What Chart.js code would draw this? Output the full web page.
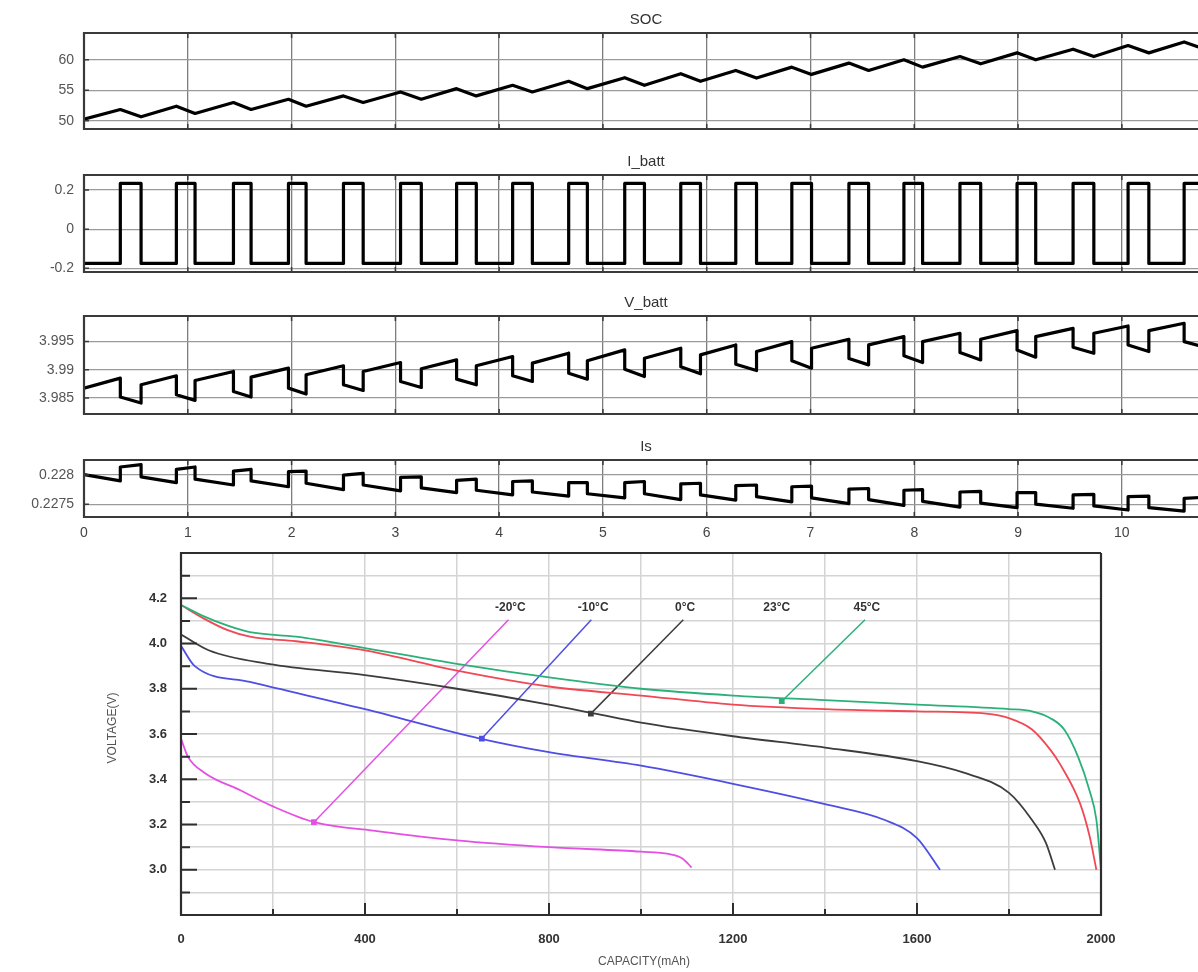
<!DOCTYPE html>
<html>
<head>
<meta charset="utf-8">
<script src="https://cdn.jsdelivr.net/npm/chart.js@4.4.1/dist/chart.umd.min.js"></script>
<style>
  html, body { margin: 0; padding: 0; background: #fff; overflow: hidden; }
  body { width: 1198px; height: 972px; position: relative; }
  canvas { position: absolute; left: 0; }
</style>
</head>
<body>
<canvas id="socChart"></canvas>
<canvas id="ibattChart"></canvas>
<canvas id="vbattChart"></canvas>
<canvas id="isChart"></canvas>
<canvas id="capChart"></canvas>
<script>
// ---- pulse test: edge times (s) ----
const pulseOn  = [0.35, 0.89, 1.44, 1.97, 2.50, 3.05, 3.59, 4.13, 4.67, 5.21, 5.75, 6.28, 6.82, 7.37, 7.90, 8.44, 8.99, 9.53, 10.06, 10.60];
const pulseOff = [0.55, 1.07, 1.61, 2.14, 2.69, 3.25, 3.78, 4.32, 4.85, 5.40, 5.94, 6.48, 7.01, 7.56, 8.08, 8.64, 9.17, 9.73, 10.26, 10.80];
const tEnd = 10.83;
const timeTicks = [0, 1, 2, 3, 4, 5, 6, 7, 8, 9, 10];

// SOC (%)
const socStart = 50.27;
const socPeak   = [51.85, 52.39, 52.99, 53.53, 54.08, 54.73, 55.27, 55.82, 56.47, 57.07, 57.72, 58.26, 58.80, 59.46, 60.00, 60.54, 61.14, 61.74, 62.34, 62.93];
const socTrough = [50.65, 51.20, 51.85, 52.39, 52.99, 53.53, 54.08, 54.73, 55.27, 55.82, 56.47, 57.01, 57.61, 58.26, 58.80, 59.35, 60.00, 60.54, 61.14, 61.74];
const socEnd = 61.8;
const socTicks = [50, 55, 60];

// battery current (A)
const iHigh = 0.234;
const iLow = -0.175;
const ibattTicks = [-0.2, 0, 0.2];

// battery voltage (V)
const vStart = 3.98676;
const vBeforeDrop = [3.98853, 3.98894, 3.98971, 3.99030, 3.99071, 3.99129, 3.99176, 3.99235, 3.99294, 3.99353, 3.99382, 3.99441, 3.99500, 3.99541, 3.99588, 3.99647, 3.99694, 3.99735, 3.99776, 3.99824];
const vAfterDrop  = [3.98518, 3.98559, 3.98618, 3.98676, 3.98735, 3.98794, 3.98835, 3.98894, 3.98941, 3.99010, 3.99055, 3.99100, 3.99160, 3.99200, 3.99250, 3.99305, 3.99350, 3.99400, 3.99440, 3.99500];
const vPulseEnd   = [3.98412, 3.98459, 3.98518, 3.98571, 3.98635, 3.98688, 3.98735, 3.98794, 3.98835, 3.98882, 3.98929, 3.98988, 3.99029, 3.99088, 3.99129, 3.99176, 3.99224, 3.99294, 3.99324, 3.99400];
const vRecover    = [3.98735, 3.98812, 3.98871, 3.98912, 3.98971, 3.99018, 3.99071, 3.99118, 3.99160, 3.99206, 3.99265, 3.99324, 3.99382, 3.99441, 3.99500, 3.99541, 3.99588, 3.99647, 3.99694, 3.99740];
const vEnd = 3.9975;
const vbattTicks = [3.985, 3.99, 3.995];

// Is
const isStart = 0.22801;
const isBeforeRise = [0.22790, 0.22787, 0.22783, 0.22780, 0.22775, 0.22773, 0.22770, 0.22766, 0.22764, 0.22761, 0.22758, 0.22757, 0.22754, 0.22751, 0.22748, 0.22745, 0.22744, 0.22743, 0.22740, 0.22738];
const isAfterRise  = [0.22814, 0.22810, 0.22807, 0.22806, 0.22800, 0.22796, 0.22791, 0.22789, 0.22787, 0.22787, 0.22785, 0.22782, 0.22780, 0.22776, 0.22774, 0.22771, 0.22770, 0.22766, 0.22763, 0.22760];
const isBeforeFall = [0.22818, 0.22814, 0.22810, 0.22807, 0.22803, 0.22797, 0.22793, 0.22790, 0.22787, 0.22789, 0.22786, 0.22783, 0.22781, 0.22777, 0.22775, 0.22772, 0.22770, 0.22767, 0.22764, 0.22762];
const isAfterFall  = [0.22797, 0.22793, 0.22790, 0.22786, 0.22783, 0.22778, 0.22774, 0.22771, 0.22768, 0.22768, 0.22766, 0.22763, 0.22761, 0.22758, 0.22755, 0.22752, 0.22750, 0.22747, 0.22744, 0.22741];
const isEnd = 0.22740;
const isTicks = [0.2275, 0.228];

// ---- discharge curves: capacity (mAh) vs voltage (V) ----
const capTicks = [0, 400, 800, 1200, 1600, 2000];
const voltTicks = [3.0, 3.2, 3.4, 3.6, 3.8, 4.0, 4.2];
const temps = ['-20°C', '-10°C', '0°C', '23°C', '45°C'];

const capM20  = [0, 15, 50, 130, 200, 290, 430, 600, 800, 1000, 1060, 1090, 1110];
const voltM20 = [3.58, 3.50, 3.43, 3.35, 3.28, 3.21, 3.17, 3.13, 3.10, 3.08, 3.07, 3.05, 3.01];
const capM10  = [0, 30, 150, 400, 650, 800, 1000, 1200, 1400, 1530, 1600, 1650];
const voltM10 = [3.99, 3.90, 3.83, 3.71, 3.58, 3.52, 3.46, 3.38, 3.29, 3.22, 3.14, 3.00];
const cap0    = [0, 60, 190, 400, 600, 800, 900, 1000, 1200, 1400, 1600, 1700, 1800, 1850, 1880, 1900];
const volt0   = [4.04, 3.97, 3.91, 3.86, 3.80, 3.73, 3.69, 3.65, 3.59, 3.54, 3.48, 3.43, 3.34, 3.22, 3.12, 3.00];
const cap23   = [0, 50, 100, 150, 250, 400, 600, 800, 1000, 1200, 1400, 1600, 1750, 1800, 1850, 1890, 1910, 1955, 1975, 1990];
const volt23  = [4.17, 4.11, 4.06, 4.03, 4.01, 3.97, 3.88, 3.81, 3.77, 3.73, 3.71, 3.70, 3.69, 3.67, 3.62, 3.53, 3.47, 3.29, 3.15, 3.00];
const cap45   = [0, 50, 100, 150, 250, 400, 600, 800, 1000, 1200, 1400, 1600, 1800, 1850, 1890, 1920, 1950, 1975, 1990, 2000];
const volt45  = [4.17, 4.12, 4.08, 4.05, 4.03, 3.98, 3.91, 3.85, 3.80, 3.77, 3.75, 3.73, 3.71, 3.70, 3.67, 3.62, 3.50, 3.35, 3.22, 3.00];

// callouts: label capacity, and the point on the curve it marks (null = no leader)
const labelCap   = [716, 896, 1096, 1295, 1491];
const labelVolt  = 4.16;
const leaderTopVolt = 4.105;
const markCap    = [289, 654, 891, null, 1306];
const markVolt   = [3.21, 3.58, 3.69, null, 3.745];

const FONT = '"Liberation Sans", Arial, sans-serif';
Chart.defaults.font.family = FONT;
Chart.defaults.animation = false;
Chart.defaults.events = [];
Chart.defaults.plugins.legend.display = false;
Chart.defaults.plugins.tooltip.enabled = false;

function xy(xs, ys) { return xs.map((x, i) => ({ x: x, y: ys[i] })); }

function placeCanvas(id, top, width, height) {
  const c = document.getElementById(id);
  c.width = width;
  c.height = height;
  c.style.top = top + 'px';
  c.style.width = width + 'px';
  c.style.height = height + 'px';
  return c;
}

// fixed axis box sizes, no extra room reserved for overhanging labels
function fixWidth(w) {
  return s => { s.width = w; s.paddingTop = 0; s.paddingBottom = 0; };
}
function fixHeight(h) {
  return s => { s.height = h; s.paddingLeft = 0; s.paddingRight = 0; };
}

// box around the plot area plus short inward tick marks
const framePlugin = {
  id: 'frame',
  afterDatasetsDraw(chart, args, o) {
    const { ctx, chartArea: a, scales } = chart;
    ctx.save();
    ctx.strokeStyle = o.color;
    ctx.lineWidth = o.width;
    ctx.beginPath();
    ctx.moveTo(a.right, a.top);
    ctx.lineTo(a.left, a.top);
    ctx.lineTo(a.left, a.bottom);
    ctx.lineTo(a.right, a.bottom);
    if (o.right) ctx.lineTo(a.right, a.top);
    ctx.stroke();
    ctx.lineWidth = o.tickWidth;
    ctx.beginPath();
    scales.x.ticks.forEach(t => {
      const len = o.xTickLen(t.value);
      const px = scales.x.getPixelForValue(t.value);
      ctx.moveTo(px, a.bottom); ctx.lineTo(px, a.bottom - len);
      if (o.topTicks) { ctx.moveTo(px, a.top); ctx.lineTo(px, a.top + len); }
    });
    scales.y.ticks.forEach(t => {
      const len = o.yTickLen(t.value);
      const py = scales.y.getPixelForValue(t.value);
      ctx.moveTo(a.left, py); ctx.lineTo(a.left + len, py);
    });
    ctx.stroke();
    ctx.restore();
  }
};

const panelTitlePlugin = {
  id: 'panelTitle',
  afterDraw(chart, args, o) {
    const { ctx, chartArea: a } = chart;
    ctx.save();
    ctx.font = '15px ' + FONT;
    ctx.fillStyle = '#333';
    ctx.textAlign = 'center';
    ctx.textBaseline = 'middle';
    ctx.fillText(o.text, (a.left + a.right) / 2, a.top - 13);
    ctx.restore();
  }
};

function panelChart(id, title, plotTop, plotBottom, yMin, yMax, yTicks, points, showTime) {
  const padTop = 30, padBottom = 10;
  const xAxisH = showTime ? 26 : 0;
  const h = padTop + (plotBottom - plotTop) + xAxisH + padBottom;
  const canvas = placeCanvas(id, plotTop - padTop, 1216, h);
  return new Chart(canvas, {
    type: 'scatter',
    data: {
      datasets: [{
        data: points,
        showLine: true,
        borderColor: '#000',
        borderWidth: 3.2,
        borderJoinStyle: 'round',
        pointRadius: 0,
        tension: 0
      }]
    },
    options: {
      responsive: false,
      layout: { padding: { top: padTop, bottom: padBottom, left: 0, right: 8 } },
      scales: {
        x: {
          type: 'linear', min: 0, max: tEnd,
          afterBuildTicks: s => { s.ticks = timeTicks.map(v => ({ value: v })); },
          afterFit: fixHeight(xAxisH),
          ticks: { display: showTime, color: '#444', font: { size: 14 }, padding: 8 },
          grid: { color: '#7d7d7d', lineWidth: 1.3, drawTicks: false },
          border: { display: false }
        },
        y: {
          type: 'linear', min: yMin, max: yMax,
          afterBuildTicks: s => { s.ticks = yTicks.map(v => ({ value: v })); },
          afterFit: fixWidth(84),
          ticks: { color: '#555', font: { size: 14 }, padding: 10, callback: v => String(v) },
          grid: { color: '#9a9a9a', lineWidth: 1.3, drawTicks: false },
          border: { display: false }
        }
      },
      plugins: {
        frame: { color: '#3a3a3a', width: 2.2, right: true, tickWidth: 1.5, topTicks: true,
                 xTickLen: () => 5, yTickLen: () => 5 },
        panelTitle: { text: title }
      }
    },
    plugins: [framePlugin, panelTitlePlugin]
  });
}

// ---- build the four time traces from the edge lists ----
const socPts = [{ x: 0, y: socStart }];
const ibattPts = [{ x: 0, y: iLow }];
const vbattPts = [{ x: 0, y: vStart }];
const isPts = [{ x: 0, y: isStart }];
pulseOn.forEach((tOn, i) => {
  const tOff = pulseOff[i];
  socPts.push({ x: tOn, y: socPeak[i] }, { x: tOff, y: socTrough[i] });
  ibattPts.push({ x: tOn, y: iLow }, { x: tOn, y: iHigh }, { x: tOff, y: iHigh }, { x: tOff, y: iLow });
  vbattPts.push({ x: tOn, y: vBeforeDrop[i] }, { x: tOn, y: vAfterDrop[i] },
                { x: tOff, y: vPulseEnd[i] }, { x: tOff, y: vRecover[i] });
  isPts.push({ x: tOn, y: isBeforeRise[i] }, { x: tOn, y: isAfterRise[i] },
             { x: tOff, y: isBeforeFall[i] }, { x: tOff, y: isAfterFall[i] });
});
socPts.push({ x: tEnd, y: socEnd });
ibattPts.push({ x: tEnd, y: iLow });
vbattPts.push({ x: tEnd, y: vEnd });
isPts.push({ x: tEnd, y: isEnd });

panelChart('socChart', 'SOC', 33, 129, 48.65, 64.4, socTicks, socPts, false);
panelChart('ibattChart', 'I_batt', 175, 272, -0.219, 0.277, ibattTicks, ibattPts, false);
panelChart('vbattChart', 'V_batt', 316, 414, 3.98218, 3.99953, vbattTicks, vbattPts, false);
panelChart('isChart', 'Is', 460, 517, 0.22728, 0.22826, isTicks, isPts, true);

// ---- discharge chart ----
const curveColors = ['rgb(228,80,228)', 'rgb(78,78,228)', '#3c3c3c', 'rgb(240,72,84)', 'rgb(44,176,122)'];
const curves = [xy(capM20, voltM20), xy(capM10, voltM10), xy(cap0, volt0), xy(cap23, volt23), xy(cap45, volt45)];

const curveDatasets = [4, 3, 2, 1, 0].map(i => ({
  data: curves[i],
  showLine: true,
  borderColor: curveColors[i],
  borderWidth: 1.8,
  pointRadius: 0,
  tension: 0.4,
  cubicInterpolationMode: 'monotone'
}));

const leaderDatasets = [];
temps.forEach((t, i) => {
  if (markCap[i] === null) return;
  leaderDatasets.push({
    data: [{ x: labelCap[i] - 4, y: leaderTopVolt }, { x: markCap[i], y: markVolt[i] }],
    showLine: true,
    borderColor: curveColors[i],
    borderWidth: 1.5,
    pointRadius: [0, 3],
    pointStyle: 'rect',
    pointBackgroundColor: curveColors[i],
    pointBorderColor: curveColors[i],
    tension: 0
  });
});

const dischargeText = {
  id: 'dischargeText',
  afterDraw(chart) {
    const { ctx, scales: { x, y } } = chart;
    ctx.save();
    ctx.fillStyle = '#333';
    ctx.font = 'bold 12px ' + FONT;
    ctx.textAlign = 'center';
    ctx.textBaseline = 'middle';
    temps.forEach((t, i) => {
      ctx.fillText(t, x.getPixelForValue(labelCap[i]), y.getPixelForValue(labelVolt));
    });
    ctx.fillStyle = '#555';
    ctx.font = '12px ' + FONT;
    ctx.fillText('CAPACITY(mAh)', 644, 962 - 530);
    ctx.translate(113, 728 - 530);
    ctx.rotate(-Math.PI / 2);
    ctx.fillText('VOLTAGE(V)', 0, 0);
    ctx.restore();
  }
};

const isLabel = (list, v) => list.some(l => Math.abs(l - v) < 1e-6);

const capCanvas = placeCanvas('capChart', 530, 1198, 442);
new Chart(capCanvas, {
  type: 'scatter',
  data: { datasets: curveDatasets.concat(leaderDatasets) },
  options: {
    responsive: false,
    layout: { padding: { top: 23, bottom: 0, left: 0, right: 97 } },
    scales: {
      x: {
        type: 'linear', min: 0, max: 2000,
        afterFit: fixHeight(57),
        ticks: { stepSize: 200, color: '#333', font: { size: 13, weight: 'bold' }, padding: 17,
                 callback: v => isLabel(capTicks, v) ? String(v) : '' },
        grid: { color: '#d4d4d4', lineWidth: 1.5, drawTicks: false },
        border: { display: false }
      },
      y: {
        type: 'linear', min: 2.8, max: 4.4,
        afterFit: fixWidth(181),
        ticks: { stepSize: 0.1, color: '#333', font: { size: 13, weight: 'bold' }, padding: 14,
                 callback: v => isLabel(voltTicks, v) ? v.toFixed(1) : '' },
        grid: { color: '#d4d4d4', lineWidth: 1.5, drawTicks: false },
        border: { display: false }
      }
    },
    plugins: {
      frame: { color: '#2e2e2e', width: 2.2, right: true, tickWidth: 2, topTicks: false,
               xTickLen: v => isLabel(capTicks, v) ? 12 : 6,
               yTickLen: v => isLabel(voltTicks, v) ? 16 : 9 }
    }
  },
  plugins: [framePlugin, dischargeText]
});
</script>
</body>
</html>
